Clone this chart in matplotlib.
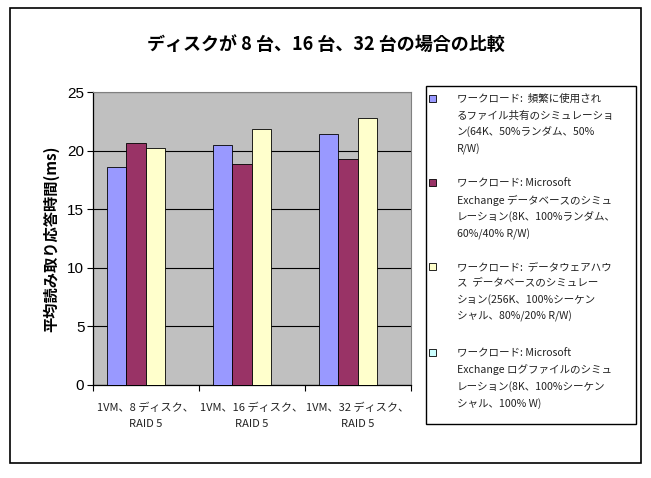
import numpy as np
import matplotlib
matplotlib.use("Agg")
import matplotlib.pyplot as plt
from matplotlib.patches import Rectangle

plt.rcParams["font.family"] = ["Noto Sans CJK JP", "DejaVu Sans"]

W, H = 651, 478

categories = ["1VM、8 ディスク、\nRAID 5", "1VM、16 ディスク、\nRAID 5", "1VM、32 ディスク、\nRAID 5"]
series_names = [
    "ワークロード:  頻繁に使用され\nるファイル共有のシミュレーショ\nン(64K、50%ランダム、50%\nR/W)",
    "ワークロード: Microsoft\nExchange データベースのシミュ\nレーション(8K、100%ランダム、\n60%/40% R/W)",
    "ワークロード:  データウェアハウ\nス  データベースのシミュレー\nション(256K、100%シーケン\nシャル、80%/20% R/W)",
    "ワークロード: Microsoft\nExchange ログファイルのシミュ\nレーション(8K、100%シーケン\nシャル、100% W)",
]
file_share = [18.6, 20.5, 21.4]
exchange_db = [20.7, 18.9, 19.3]
warehouse = [20.2, 21.9, 22.8]
exchange_log = [np.nan, np.nan, np.nan]
series_values = [file_share, exchange_db, warehouse, exchange_log]
colors = ["#9999FF", "#993366", "#FFFFCC", "#CCFFFF"]
yticks = [0, 5, 10, 15, 20, 25]

fig = plt.figure(figsize=(W / 100, H / 100), dpi=100)

# outer chart frame
fig.patches.append(Rectangle((10 / W, 1 - 463 / H), 631 / W, 455 / H,
                             transform=fig.transFigure, fill=False,
                             edgecolor="black", lw=1.2))

ax = fig.add_axes([92.7 / W, 1 - 385 / H, 318.3 / W, 292.7 / H])
ax.set_facecolor("#C0C0C0")

n = len(series_values)
bar_w = 19.5 / 106.1
x = np.arange(len(categories))
for i, (vals, col) in enumerate(zip(series_values, colors)):
    off = (i - (n - 1) / 2) * bar_w
    ax.bar(x + off, vals, bar_w, color=col, edgecolor="black", lw=0.6, zorder=3)

ax.set_xlim(-0.5, len(categories) - 0.5)
ax.set_ylim(0, 25)
ax.set_yticks(yticks)
ax.set_yticklabels([str(t) for t in yticks], fontsize=11, family="Liberation Sans")
ax.yaxis.grid(True, color="black", lw=0.8, zorder=1)
ax.set_axisbelow(True)

ax.set_xticks(np.arange(len(categories) + 1) - 0.5)
ax.set_xticklabels([])
for xi, lab in zip(x, categories):
    ax.text(xi, -1.5, lab, ha="center", va="top", fontsize=8, color="#222222",
            linespacing=1.75)
ax.tick_params(axis="both", direction="out", length=4, width=0.8, color="black")
ax.tick_params(axis="y", pad=2)

for s in ["top", "right"]:
    ax.spines[s].set_color("#808080")
    ax.spines[s].set_linewidth(0.8)
for s in ["left", "bottom"]:
    ax.spines[s].set_color("black")
    ax.spines[s].set_linewidth(0.9)

ax.set_ylabel("平均読み取り応答時間(ms)", fontsize=11, fontweight="bold", labelpad=6)

fig.text(0.5, 1 - 44 / H, "ディスクが 8 台、16 台、32 台の場合の比較",
         ha="center", va="center", fontsize=13, fontweight="bold")

# legend box
fig.patches.append(Rectangle((426 / W, 1 - 424 / H), 210 / W, 338 / H,
                             transform=fig.transFigure, fill=False,
                             edgecolor="black", lw=1.0))
entry_tops = [94, 178, 262, 348]
for top, name, col in zip(entry_tops, series_names, colors):
    fig.patches.append(Rectangle((429 / W, 1 - (top + 8) / H), 7 / W, 7 / H,
                                 transform=fig.transFigure, facecolor=col,
                                 edgecolor="black", lw=0.6))
    fig.text(457 / W, 1 - top / H, name, ha="left", va="top", fontsize=7.6,
             color="#222222", linespacing=1.7)

fig.savefig("out.png", dpi=100)
